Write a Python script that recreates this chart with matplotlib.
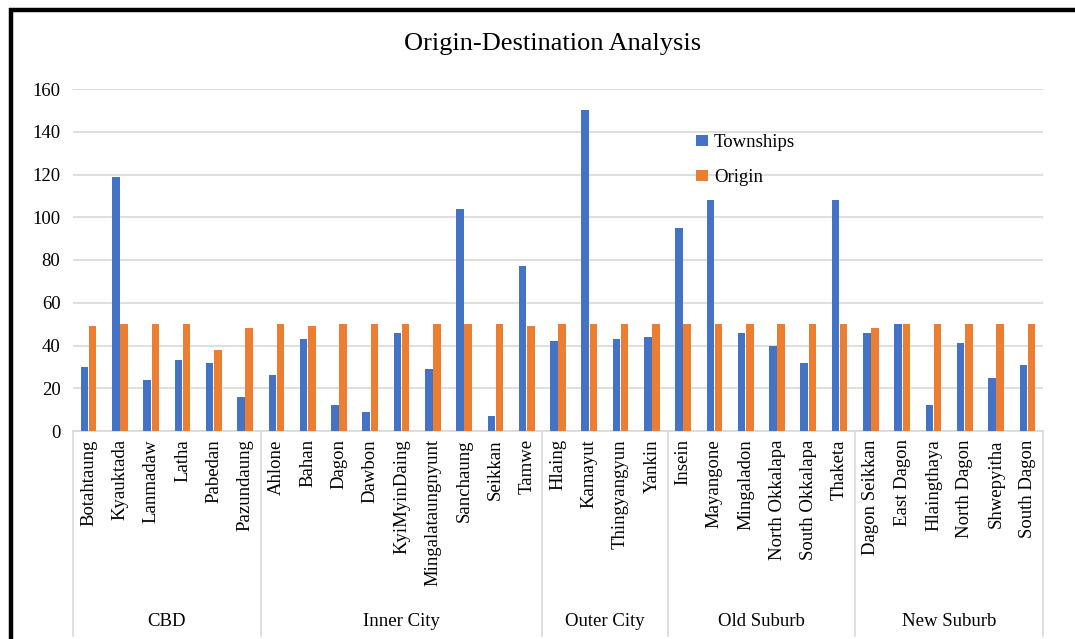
import matplotlib
matplotlib.use("Agg")
import matplotlib.pyplot as plt
import matplotlib.transforms as mtransforms
from matplotlib.lines import Line2D
import numpy as np

plt.rcParams["font.family"] = ["Liberation Serif", "DejaVu Serif"]

# Townships grouped by zone
groups = ["CBD", "Inner City", "Outer City", "Old Suburb", "New Suburb"]
group_members = [
    ["Botahtaung", "Kyauktada", "Lanmadaw", "Latha", "Pabedan", "Pazundaung"],
    ["Ahlone", "Bahan", "Dagon", "Dawbon", "KyiMyinDaing", "Mingalataungnyunt",
     "Sanchaung", "Seikkan", "Tamwe"],
    ["Hlaing", "Kamayut", "Thingyangyun", "Yankin"],
    ["Insein", "Mayangone", "Mingaladon", "North Okkalapa", "South Okkalapa", "Thaketa"],
    ["Dagon Seikkan", "East Dagon", "Hlaingthaya", "North Dagon", "Shwepyitha", "South Dagon"],
]

townships = [30, 119, 24, 33, 32, 16,
             26, 43, 12, 9, 46, 29, 104, 7, 77,
             42, 150, 43, 44,
             95, 108, 46, 40, 32, 108,
             46, 50, 12, 41, 25, 31]
origin = [49, 50, 50, 50, 38, 48,
          50, 49, 50, 50, 50, 50, 50, 50, 49,
          50, 50, 50, 50,
          50, 50, 50, 50, 50, 50,
          48, 50, 50, 50, 50, 50]

labels = [name for members in group_members for name in members]

BLUE = "#4472C4"
ORANGE = "#ED7D31"
GRID = "#D9D9D9"
FS = 13.5

W, H = 1075, 639
fig = plt.figure(figsize=(W / 100, H / 100), dpi=100)
ax = fig.add_axes([73 / W, 1 - 431 / H, (1043 - 73) / W, (431 - 89) / H])

x = np.arange(len(labels))
bw = 0.24
ax.bar(x - bw / 2 - 0.01, townships, width=bw, color=BLUE, label="Townships", zorder=3)
ax.bar(x + bw / 2 + 0.01, origin, width=bw, color=ORANGE, label="Origin", zorder=3)

ax.set_xlim(-0.5, len(labels) - 0.5)
ax.set_ylim(0, 160)
ax.set_yticks(range(0, 161, 20))
ax.yaxis.grid(True, color=GRID, linewidth=1.2, zorder=0)
ax.set_axisbelow(True)
for side in ["top", "right", "left"]:
    ax.spines[side].set_visible(False)
ax.spines["bottom"].set_color(GRID)
ax.spines["bottom"].set_linewidth(1.2)
ax.tick_params(axis="y", length=0, pad=9, labelsize=FS)
ax.tick_params(axis="x", length=0, pad=6, labelsize=FS)
ax.set_xticks(x)
ax.set_xticklabels(labels, rotation=90, va="top", ha="center")

# Zone separators and zone names beneath the township labels
trans = mtransforms.blended_transform_factory(ax.transData, fig.transFigure)
y_top = 1 - 431 / H
y_bot = 1 - 636 / H
start = 0
bounds = [-0.5]
for g, members in zip(groups, group_members):
    end = start + len(members)
    bounds.append(end - 0.5)
    ax.text((start + end - 1) / 2, 1 - 621 / H, g, transform=trans,
            ha="center", va="center", fontsize=FS)
    start = end
for b in bounds:
    fig.add_artist(Line2D([b, b], [y_top, y_bot], transform=trans,
                          color=GRID, linewidth=1.2))

fig.text(553 / W, 1 - 44 / H, "Origin-Destination Analysis",
         ha="center", va="center", fontsize=19)

ax.legend(loc="upper left", bbox_to_anchor=(696 / W, 1 - 134 / H),
          bbox_transform=fig.transFigure, frameon=False, fontsize=FS,
          handlelength=0.65, handleheight=0.5, handletextpad=0.3,
          labelspacing=0.95, borderpad=0, borderaxespad=0)

# Black frame along the left and top edges
fig.add_artist(Line2D([10.5 / W, 10.5 / W], [1 - 8 / H, 0], color="black",
                      linewidth=3.2, solid_capstyle="butt"))
fig.add_artist(Line2D([9 / W, 1], [1 - 10 / H, 1 - 10 / H], color="black",
                      linewidth=3.2, solid_capstyle="butt"))

fig.savefig("out.png", dpi=100)
